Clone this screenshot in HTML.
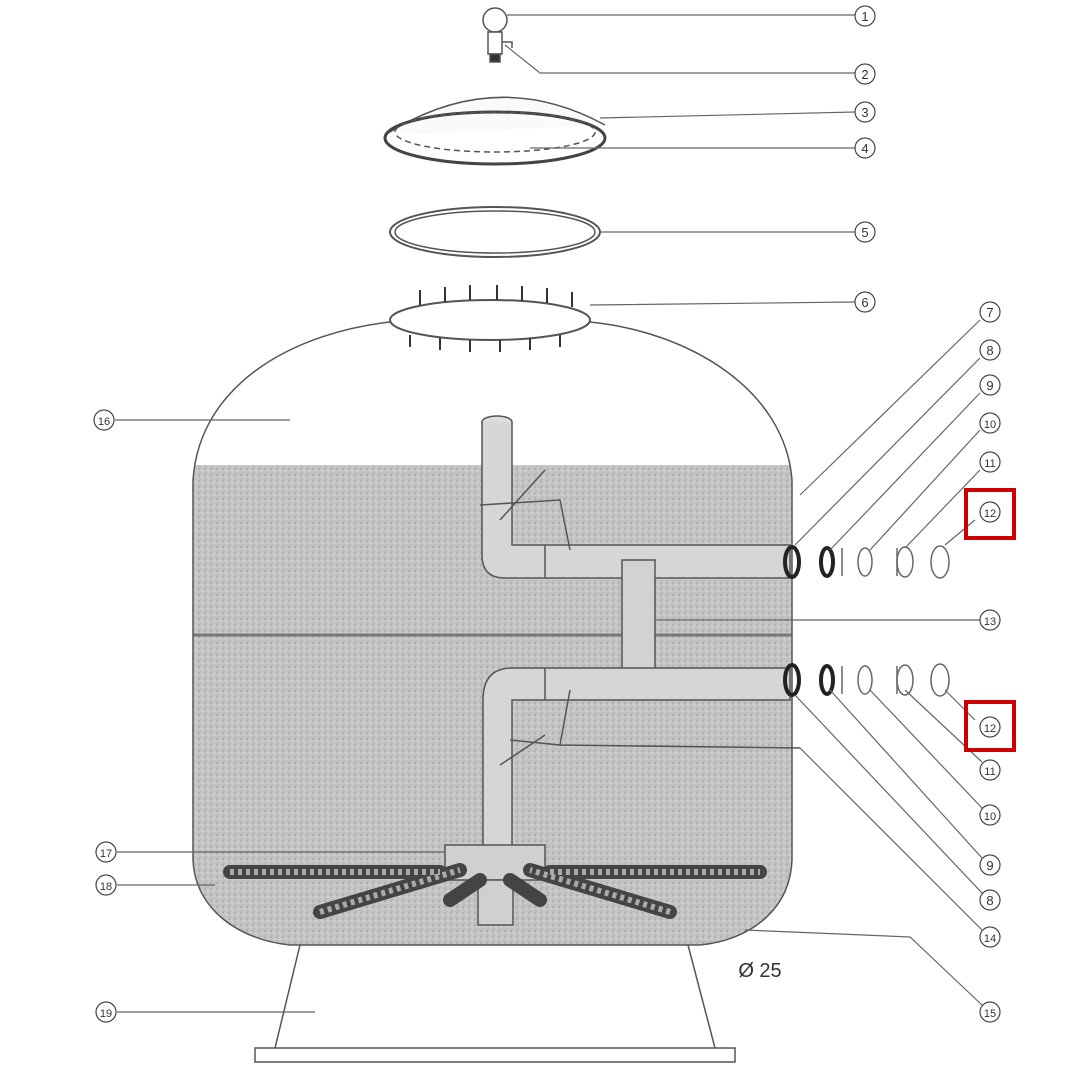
<!DOCTYPE html>
<html><head><meta charset="utf-8"><style>
html,body{margin:0;padding:0;background:#fff;}
svg{display:block;}
text{font-family:"Liberation Sans",sans-serif;}
</style></head><body>
<svg width="1080" height="1080" viewBox="0 0 1080 1080" xmlns="http://www.w3.org/2000/svg">
<defs>
<pattern id="sand" width="6" height="6" patternUnits="userSpaceOnUse">
<rect width="6" height="6" fill="#c4c4c4"/>
<circle cx="1" cy="1" r="0.8" fill="#9a9a9a"/><circle cx="4" cy="3" r="0.7" fill="#e0e0e0"/><circle cx="2" cy="5" r="0.6" fill="#a5a5a5"/>
</pattern>
<clipPath id="tank"><path d="M193 480 C200 380 300 332 390 322 L590 322 C690 332 785 390 792 480 L792 860 C790 910 750 940 700 945 L290 945 C240 940 195 910 193 860 Z"/></clipPath>
</defs>
<g stroke="#555" fill="none" stroke-width="1.5">
<!-- top parts -->
<circle cx="495" cy="20" r="12" fill="#fff"/>
<rect x="488" y="32" width="14" height="22" fill="#fff"/>
<path d="M502 42 L512 42 L512 48"/>
<rect x="490" y="54" width="10" height="8" fill="#333"/>
<path d="M385 135 Q495 65 605 125" fill="#fafafa"/>
<ellipse cx="495" cy="138" rx="110" ry="26" stroke-width="3" stroke="#444"/>
<ellipse cx="495" cy="132" rx="100" ry="20" stroke-dasharray="6 4"/>
<ellipse cx="495" cy="232" rx="105" ry="25" stroke-width="2"/>
<ellipse cx="495" cy="232" rx="100" ry="21"/>
<ellipse cx="490" cy="320" rx="100" ry="20" stroke-width="2"/>
<g stroke="#333" stroke-width="2">
<path d="M420 290v15M445 287v15M470 285v15M497 285v15M522 286v15M547 288v15M572 292v15M410 335v12M440 338v12M470 340v12M500 340v12M530 338v12M560 335v12"/>
</g>
<!-- tank -->
<g clip-path="url(#tank)">
<rect x="180" y="465" width="630" height="490" fill="url(#sand)" stroke="none"/>
<line x1="180" y1="635" x2="800" y2="635" stroke="#777" stroke-width="3"/>
</g>
<path d="M193 480 C200 380 300 332 390 322 M590 322 C690 332 785 390 792 480 L792 860 C790 910 750 940 700 945 L290 945 C240 940 195 910 193 860 L193 480" stroke="#555"/>
<!-- pipes -->
<ellipse cx="497" cy="422" rx="15" ry="6" fill="#ddd"/>
<path d="M482 422 L482 555 Q482 578 505 578 L790 578 L790 545 L545 545 L512 545 L512 422" fill="#d6d6d6"/>
<path d="M545 545v33M480 505 L560 500 L570 550 M500 520 L545 470"/>
<rect x="622" y="560" width="33" height="120" fill="#d2d2d2"/>
<path d="M790 668 L512 668 Q483 668 483 700 L483 850 L512 850 L512 700 L545 700 L790 700 Z" fill="#d6d6d6"/>
<path d="M545 668v32M510 740 L560 745 L570 690 M500 765 L545 735 M560 745 L800 748"/>
<rect x="445" y="845" width="100" height="35" fill="#d0d0d0"/>
<rect x="478" y="880" width="35" height="45" fill="#d0d0d0"/>
<!-- laterals -->
<g stroke="#444" stroke-width="14" stroke-linecap="round">
<path d="M230 872 H440 M550 872 H760 M320 912 L460 870 M670 912 L530 870 M450 900 L480 880 M540 900 L510 880"/>
</g>
<g stroke="#aaa" stroke-width="6" stroke-dasharray="4 4">
<path d="M230 872 H440 M550 872 H760 M320 912 L460 870 M670 912 L530 870"/>
</g>
<!-- stand -->
<path d="M300 945 L275 1048 M688 945 L715 1048"/>
<rect x="255" y="1048" width="480" height="14" fill="#fff"/>
<!-- fittings -->
<g stroke="#222" stroke-width="4"><ellipse cx="792" cy="562" rx="7" ry="15"/><ellipse cx="827" cy="562" rx="6" ry="14"/><ellipse cx="792" cy="680" rx="7" ry="15"/><ellipse cx="827" cy="680" rx="6" ry="14"/></g>
<g stroke="#666"><ellipse cx="865" cy="562" rx="7" ry="14"/><ellipse cx="905" cy="562" rx="8" ry="15"/><ellipse cx="940" cy="562" rx="9" ry="16"/><ellipse cx="865" cy="680" rx="7" ry="14"/><ellipse cx="905" cy="680" rx="8" ry="15"/><ellipse cx="940" cy="680" rx="9" ry="16"/><path d="M842 548v28M897 548v28M842 666v28M897 666v28"/></g>
<!-- leaders -->
<g stroke="#666" stroke-width="1.2">
<path d="M507 15H855M505 45 L540 73 H855M600 118 L855 112M530 148H855M600 232H855M590 305L855 302"/>
<path d="M800 495L980 320M795 545L980 358M830 550L980 393M870 550L980 430M905 548L980 470M945 545L975 520M655 620H980"/>
<path d="M945 690L975 720M905 690L982 762M870 690L982 808M830 690L982 858M795 695L982 893M800 748L982 930M745 930L910 937L982 1005"/>
<path d="M115 420H290M117 852H445M117 885H215M117 1012H315"/>
</g>
</g>
<rect x="966" y="490" width="48" height="48" fill="none" stroke="#c00" stroke-width="4"/>
<rect x="966" y="702" width="48" height="48" fill="none" stroke="#c00" stroke-width="4"/>
<g font-size="13" text-anchor="middle" fill="#333" stroke="none">
<g stroke="#444" fill="none" stroke-width="1.2">
<circle cx="865" cy="16" r="10"/><circle cx="865" cy="74" r="10"/><circle cx="865" cy="112" r="10"/><circle cx="865" cy="148" r="10"/><circle cx="865" cy="232" r="10"/><circle cx="865" cy="302" r="10"/>
<circle cx="990" cy="312" r="10"/><circle cx="990" cy="350" r="10"/><circle cx="990" cy="385" r="10"/><circle cx="990" cy="423" r="10"/><circle cx="990" cy="462" r="10"/><circle cx="990" cy="512" r="10"/><circle cx="990" cy="620" r="10"/><circle cx="990" cy="727" r="10"/><circle cx="990" cy="770" r="10"/><circle cx="990" cy="815" r="10"/><circle cx="990" cy="865" r="10"/><circle cx="990" cy="900" r="10"/><circle cx="990" cy="937" r="10"/><circle cx="990" cy="1012" r="10"/>
<circle cx="104" cy="420" r="10"/><circle cx="106" cy="852" r="10"/><circle cx="106" cy="885" r="10"/><circle cx="106" cy="1012" r="10"/>
</g>
<text x="865" y="21">1</text><text x="865" y="79">2</text><text x="865" y="117">3</text><text x="865" y="153">4</text><text x="865" y="237">5</text><text x="865" y="307">6</text>
<text x="990" y="317">7</text><text x="990" y="355">8</text><text x="990" y="390">9</text><text x="990" y="428" font-size="11">10</text><text x="990" y="467" font-size="11">11</text><text x="990" y="517" font-size="11">12</text><text x="990" y="625" font-size="11">13</text><text x="990" y="732" font-size="11">12</text><text x="990" y="775" font-size="11">11</text><text x="990" y="820" font-size="11">10</text><text x="990" y="870">9</text><text x="990" y="905">8</text><text x="990" y="942" font-size="11">14</text><text x="990" y="1017" font-size="11">15</text>
<text x="104" y="425" font-size="11">16</text><text x="106" y="857" font-size="11">17</text><text x="106" y="890" font-size="11">18</text><text x="106" y="1017" font-size="11">19</text>
<text x="760" y="977" font-size="20">Ø 25</text>
</g>
</svg>
</body></html>
